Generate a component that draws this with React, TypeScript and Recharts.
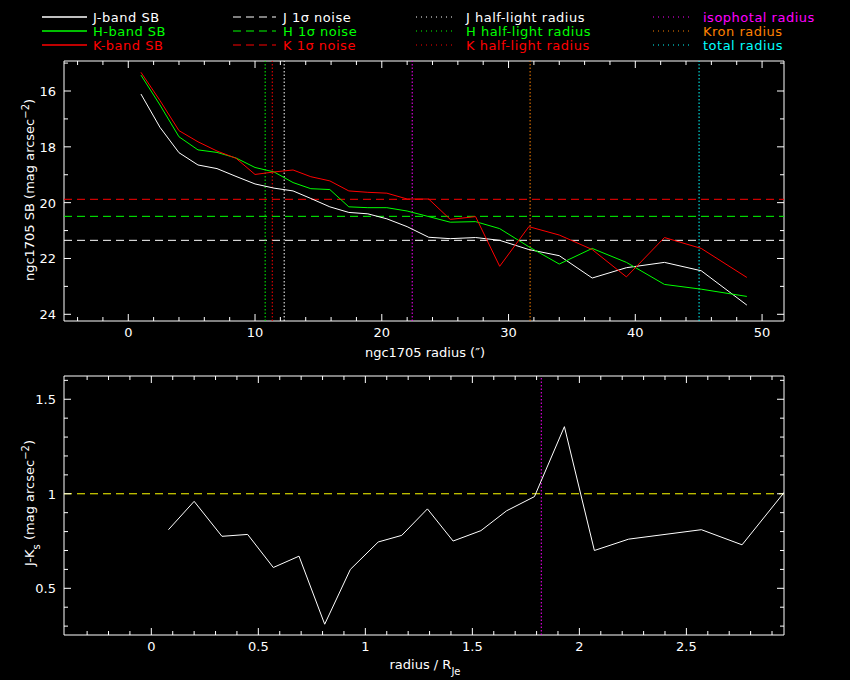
import React from 'react';
import { LineChart, Line, XAxis, YAxis, ReferenceLine, ReferenceArea } from 'recharts';

// surface brightness profiles (radius in arcsec, SB in mag arcsec^-2)
const radius = [1.0, 2.5, 4.0, 5.5, 7.0, 8.5, 10.0, 11.5, 13.0, 14.4, 15.9, 17.4, 18.9, 20.4, 22.0, 23.7, 25.4, 27.4, 29.3, 31.6, 34.0, 36.6, 39.3, 42.3, 45.2, 48.8];
const jBand = [16.11, 17.3, 18.21, 18.65, 18.78, 19.06, 19.33, 19.48, 19.58, 19.85, 20.15, 20.35, 20.4, 20.58, 20.86, 21.24, 21.29, 21.25, 21.35, 21.68, 21.9, 22.7, 22.33, 22.14, 22.44, 23.67];
const hBand = [15.43, 16.5, 17.64, 18.11, 18.2, 18.4, 18.74, 18.9, 19.28, 19.5, 19.53, 20.15, 20.18, 20.18, 20.3, 20.5, 20.7, 20.68, 20.93, 21.58, 22.2, 21.64, 22.14, 22.93, 23.1, 23.36];
const kBand = [15.33, 16.34, 17.42, 17.82, 18.15, 18.41, 18.99, 18.9, 18.83, 19.07, 19.22, 19.58, 19.63, 19.66, 19.87, 19.87, 20.6, 20.5, 22.28, 20.86, 21.16, 21.68, 22.66, 21.25, 21.64, 22.68];

// 1 sigma noise levels and radii markers
const noiseLevels = [21.35, 20.49, 19.88];
const noiseColours = ['#ffffff', '#00ff00', '#ff0000'];
const markerRadii = [12.3, 10.8, 11.36, 22.4, 31.7, 45.03];
const markerColours = ['#ffffff', '#00ff00', '#ff0000', '#ff00ff', '#ff8000', '#00ffff'];

// colour profile (radius / R_Je vs J-Ks)
const radiusNorm = [0.08, 0.2, 0.33, 0.45, 0.57, 0.69, 0.81, 0.93, 1.06, 1.17, 1.29, 1.41, 1.54, 1.66, 1.79, 1.93, 2.07, 2.23, 2.57, 2.76, 2.98];
const jkColour = [0.81, 0.96, 0.775, 0.785, 0.61, 0.67, 0.31, 0.6, 0.745, 0.78, 0.92, 0.75, 0.805, 0.91, 0.985, 1.355, 0.7, 0.76, 0.81, 0.73, 1.04];
const colourRef = 1;
const isophotalNorm = 1.822;

const topXLabels = [0, 10, 20, 30, 40, 50];
const topYLabels = [16, 18, 20, 22, 24];
const botXLabels = [0, 0.5, 1, 1.5, 2, 2.5];
const botYLabels = [0.5, 1, 1.5];

const legendCols = [
  { names: ['J-band SB', 'H-band SB', 'K-band SB'], dash: undefined, x0: 42, x1: 87, tx: 93 },
  { names: ['J 1σ noise', 'H 1σ noise', 'K 1σ noise'], dash: '8 5', x0: 233, x1: 276, tx: 283 },
  { names: ['J half-light radius', 'H half-light radius', 'K half-light radius'], dash: '1 4', x0: 416, x1: 456, tx: 466 },
  { names: ['isophotal radius', 'Kron radius', 'total radius'], dash: '1 4', x0: 653, x1: 693, tx: 703 },
];
const legendColours = [
  ['#ffffff', '#00ff00', '#ff0000'],
  ['#ffffff', '#00ff00', '#ff0000'],
  ['#ffffff', '#00ff00', '#ff0000'],
  ['#ff00ff', '#ff8000', '#00ffff'],
];

const topRows = radius.map((r, i) => ({ r, j: jBand[i], h: hBand[i], k: kBand[i] }));
const botRows = radiusNorm.map((x, i) => ({ x, jk: jkColour[i] }));

const steps = (a: number, b: number, s: number) => {
  const out: number[] = [];
  for (let i = 0; a + i * s <= b + 1e-9; i++) out.push(+(a + i * s).toFixed(4));
  return out;
};

const FONT = 'DejaVu Sans, sans-serif';
const topBox = { left: 64, right: 784, top: 61, bottom: 321 };
const botBox = { left: 64, right: 784, top: 6, bottom: 265 };

const isMajor = (v: number, labels: number[]) => labels.some((l) => Math.abs(l - v) < 1e-6);

const xTick = (box: any, labels: number[]) => (props: any) => {
  const { x, payload } = props;
  const major = isMajor(payload.value, labels);
  const len = major ? 7 : 4;
  return (
    <g>
      <line x1={x} x2={x} y1={box.bottom} y2={box.bottom - len} stroke="#fff" />
      <line x1={x} x2={x} y1={box.top} y2={box.top + len} stroke="#fff" />
      {major && (
        <text x={x} y={box.bottom + 16} textAnchor="middle" fill="#fff" fontSize={13} fontFamily={FONT}>
          {String(payload.value)}
        </text>
      )}
    </g>
  );
};

const yTick = (box: any, labels: number[]) => (props: any) => {
  const { y, payload } = props;
  const major = isMajor(payload.value, labels);
  const len = major ? 7 : 4;
  return (
    <g>
      <line x1={box.left} x2={box.left + len} y1={y} y2={y} stroke="#fff" />
      <line x1={box.right} x2={box.right - len} y1={y} y2={y} stroke="#fff" />
      {major && (
        <text x={box.left - 8} y={y + 5} textAnchor="end" fill="#fff" fontSize={13} fontFamily={FONT}>
          {String(payload.value)}
        </text>
      )}
    </g>
  );
};

const topX = [-5.07, 51.73];
const topY = [14.925, 24.24];
const botX = [-0.408, 2.956];
const botY = [0.253, 1.623];

export default function App() {
  return (
    <div style={{ position: 'absolute', left: 0, top: 0, width: 850, height: 680, background: '#000', overflow: 'hidden' }}>
      <div style={{ position: 'absolute', left: 0, top: 0 }}>
        <LineChart width={850} height={370} data={topRows} margin={{ top: 61, right: 66, bottom: 48, left: 63 }}>
          <XAxis
            type="number"
            dataKey="r"
            domain={topX}
            allowDataOverflow
            ticks={steps(-4, 50, 2)}
            interval={0}
            height={1}
            axisLine={false}
            tickLine={false}
            tick={xTick(topBox, topXLabels)}
          />
          <YAxis
            type="number"
            domain={topY}
            reversed
            allowDataOverflow
            ticks={steps(15, 24, 1)}
            interval={0}
            width={1}
            axisLine={false}
            tickLine={false}
            tick={yTick(topBox, topYLabels)}
          />
          <ReferenceArea x1={topX[0]} x2={topX[1]} y1={topY[0]} y2={topY[1]} fill="none" stroke="#fff" strokeOpacity={1} fillOpacity={0} />
          {noiseLevels.map((v, i) => (
            <ReferenceLine key={'n' + i} y={v} stroke={noiseColours[i]} strokeDasharray="8 5" strokeWidth={1} />
          ))}
          {markerRadii.map((v, i) => (
            <ReferenceLine key={'m' + i} x={v} stroke={markerColours[i]} strokeDasharray="1.5 2" strokeWidth={1} />
          ))}
          <Line dataKey="j" stroke="#ffffff" strokeWidth={1} dot={false} isAnimationActive={false} />
          <Line dataKey="h" stroke="#00ff00" strokeWidth={1} dot={false} isAnimationActive={false} />
          <Line dataKey="k" stroke="#ff0000" strokeWidth={1} dot={false} isAnimationActive={false} />
        </LineChart>
      </div>
      <div style={{ position: 'absolute', left: 0, top: 370 }}>
        <LineChart width={850} height={310} data={botRows} margin={{ top: 6, right: 66, bottom: 44, left: 63 }}>
          <XAxis
            type="number"
            dataKey="x"
            domain={botX}
            allowDataOverflow
            ticks={steps(-0.3, 2.9, 0.1)}
            interval={0}
            height={1}
            axisLine={false}
            tickLine={false}
            tick={xTick(botBox, botXLabels)}
          />
          <YAxis
            type="number"
            domain={botY}
            allowDataOverflow
            ticks={steps(0.3, 1.6, 0.1)}
            interval={0}
            width={1}
            axisLine={false}
            tickLine={false}
            tick={yTick(botBox, botYLabels)}
          />
          <ReferenceArea x1={botX[0]} x2={botX[1]} y1={botY[0]} y2={botY[1]} fill="none" stroke="#fff" strokeOpacity={1} fillOpacity={0} />
          <ReferenceLine y={colourRef} stroke="#ffff00" strokeDasharray="8 5" strokeWidth={1} />
          <ReferenceLine x={isophotalNorm} stroke="#ff00ff" strokeDasharray="1.5 2" strokeWidth={1} />
          <Line dataKey="jk" stroke="#ffffff" strokeWidth={1} dot={false} isAnimationActive={false} />
        </LineChart>
      </div>
      <svg width={850} height={680} style={{ position: 'absolute', left: 0, top: 0, pointerEvents: 'none' }} fontFamily={FONT}>
        {legendCols.map((col, c) =>
          col.names.map((name, r) => {
            const cy = 17 + r * 14;
            const colr = legendColours[c][r];
            return (
              <g key={c + '-' + r}>
                <line x1={col.x0} x2={col.x1} y1={cy} y2={cy} stroke={colr} strokeWidth={c === 0 ? 1.5 : 1} strokeDasharray={col.dash} />
                <text x={col.tx} y={cy + 5} fill={colr} fontSize={13} letterSpacing={0.5}>
                  {name}
                </text>
              </g>
            );
          })
        )}
        <text x={425} y={357} textAnchor="middle" fill="#fff" fontSize={13}>
          ngc1705 radius (″)
        </text>
        <text x={34} y={190} textAnchor="middle" fill="#fff" fontSize={13} transform="rotate(-90 34 190)">
          ngc1705 SB (mag arcsec<tspan baselineShift="super" fontSize={10}>−2</tspan>)
        </text>
        <text x={425} y={669} textAnchor="middle" fill="#fff" fontSize={13}>
          radius / R<tspan baselineShift="sub" fontSize={10}>Je</tspan>
        </text>
        <text x={34} y={503} textAnchor="middle" fill="#fff" fontSize={13} transform="rotate(-90 34 503)">
          J-K<tspan baselineShift="sub" fontSize={10}>s</tspan>
          <tspan> (mag arcsec</tspan>
          <tspan baselineShift="super" fontSize={10}>−2</tspan>
          <tspan>)</tspan>
        </text>
      </svg>
    </div>
  );
}
